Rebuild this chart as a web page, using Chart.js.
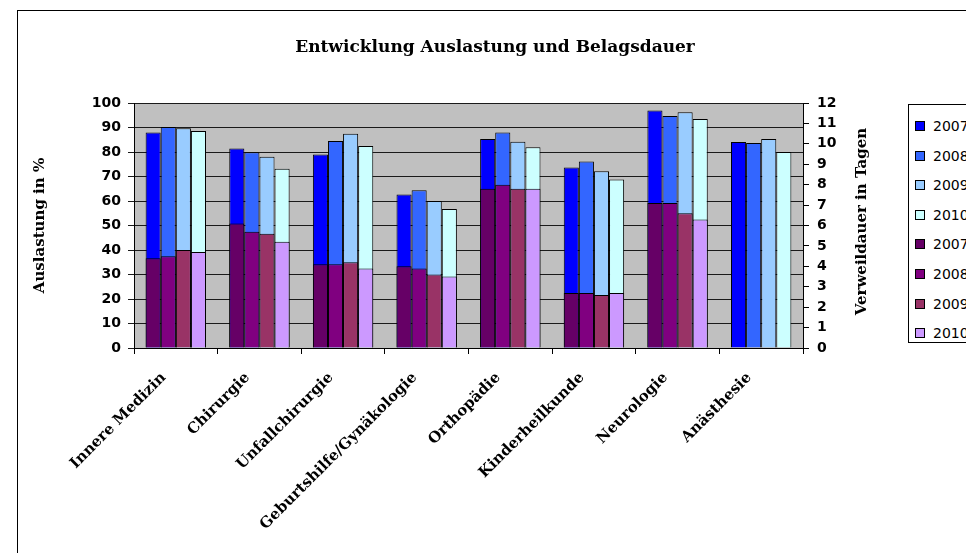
<!DOCTYPE html>
<html lang="de">
<head>
<meta charset="utf-8">
<title>Entwicklung Auslastung und Belagsdauer</title>
<script src="https://cdn.jsdelivr.net/npm/chart.js@4.4.1/dist/chart.umd.min.js"></script>
<style>
  html, body { margin: 0; padding: 0; background: #fff; overflow: hidden; }
  #frame { position: absolute; left: 17px; top: 10px; width: 1200px; height: 800px; border-left: 1px solid #000; border-top: 1px solid #000; }
  #wrap { position: absolute; left: 0; top: 0; width: 970px; height: 553px; }
  #legend { position: absolute; left: 908px; top: 104px; width: 120px; height: 237px; border: 1px solid #000; background: #fff; font: 14px 'DejaVu Sans', sans-serif; color: #000; }
  .legend-item { position: absolute; left: 6px; height: 14px; display: flex; align-items: center; white-space: nowrap; }
  .legend-item i { display: inline-block; width: 8px; height: 8px; border: 1px solid #000; margin-right: 8px; }
</style>
</head>
<body>
<div id="frame"></div>
<div id="wrap"><canvas id="chart" width="970" height="553"></canvas></div>
<div id="legend"></div>
<script>
// Abteilungen (x-Achse)
const categories = [
  'Innere Medizin', 'Chirurgie', 'Unfallchirurgie', 'Geburtshilfe/Gynäkologie',
  'Orthopädie', 'Kinderheilkunde', 'Neurologie', 'Anästhesie',
];
const years = ['2007', '2008', '2009', '2010'];

// Auslastung in % (linke Achse)
const auslastung2007 = [88.0, 81.4, 79.0, 62.7, 85.3, 73.7, 96.9, 84.1];
const auslastung2008 = [90.2, 79.9, 84.5, 64.4, 88.0, 76.1, 94.7, 83.7];
const auslastung2009 = [89.7, 78.1, 87.5, 60.0, 84.2, 72.1, 96.2, 85.3];
const auslastung2010 = [88.6, 73.2, 82.4, 56.7, 81.9, 68.8, 93.5, 80.0];

// Verweildauer in Tagen (rechte Achse)
const verweildauer2007 = [4.4, 6.1, 4.1, 4.0, 7.8, 2.7, 7.1, null];
const verweildauer2008 = [4.5, 5.7, 4.1, 3.9, 8.0, 2.7, 7.1, null];
const verweildauer2009 = [4.8, 5.6, 4.2, 3.6, 7.8, 2.6, 6.6, null];
const verweildauer2010 = [4.7, 5.2, 3.9, 3.5, 7.8, 2.7, 6.3, null];

const leftTicks = { min: 0, max: 100, step: 10 };
const rightTicks = { min: 0, max: 12, step: 1 };

const BLUES = ['#0000ff', '#3366ff', '#99ccff', '#ccffff'];
const PURPLES = ['#660066', '#800080', '#993366', '#cc99ff'];

const auslastung = [auslastung2007, auslastung2008, auslastung2009, auslastung2010];
const verweildauer = [verweildauer2007, verweildauer2008, verweildauer2009, verweildauer2010];

const SERIF = "'DejaVu Serif', serif";
const SANS = "'DejaVu Sans', sans-serif";
const RIGHT_TITLE = 'Verweildauer in Tagen';

const plotBackground = {
  id: 'plotBackground',
  beforeDraw(chart) {
    const { ctx, chartArea: a } = chart;
    ctx.save();
    ctx.fillStyle = '#c0c0c0';
    ctx.fillRect(a.left, a.top, a.right - a.left, a.bottom - a.top);
    ctx.restore();
  },
};

// Excel schreibt den rechten Achsentitel von unten nach oben
const rightAxisTitle = {
  id: 'rightAxisTitle',
  afterDraw(chart) {
    const { ctx, chartArea: a } = chart;
    ctx.save();
    ctx.translate(a.right + 59, (a.top + a.bottom) / 2 - 4);
    ctx.rotate(-Math.PI / 2);
    ctx.font = `bold 15px ${SERIF}`;
    ctx.fillStyle = '#000';
    ctx.textAlign = 'center';
    ctx.textBaseline = 'middle';
    ctx.fillText(RIGHT_TITLE, 0, 0);
    ctx.restore();
  },
};

function barSet(values, i, colors, axis, order) {
  return {
    label: years[i],
    data: values,
    backgroundColor: colors[i],
    borderColor: '#000',
    borderWidth: 1,
    yAxisID: axis,
    stack: 's' + i,
    order: order,
    categoryPercentage: 0.722,
    barPercentage: 1.0,
  };
}

const datasets = [
  ...auslastung.map((v, i) => barSet(v, i, BLUES, 'y', 1)),
  ...verweildauer.map((v, i) => barSet(v, i, PURPLES, 'y2', 0)),
];

const chart = new Chart(document.getElementById('chart'), {
  type: 'bar',
  data: { labels: categories, datasets },
  plugins: [plotBackground, rightAxisTitle],
  options: {
    responsive: false,
    animation: false,
    devicePixelRatio: 1,
    layout: { padding: { left: 20, right: 0, top: 0, bottom: 0 } },
    plugins: {
      legend: { display: false },
      tooltip: { enabled: false },
      title: {
        display: true,
        text: 'Entwicklung Auslastung und Belagsdauer',
        color: '#000',
        font: { family: SERIF, weight: 'bold', size: 17 },
        padding: { top: 37, bottom: 45.6 },
      },
    },
    scales: {
      x: {
        offset: true,
        grid: { offset: true, drawOnChartArea: false, tickLength: 6, color: '#000' },
        border: { color: '#000' },
        ticks: {
          autoSkip: false,
          minRotation: 45,
          maxRotation: 45,
          padding: 15,
          labelOffset: -12,
          color: '#000',
          font: { family: SERIF, weight: 'bold', size: 15 },
        },
        afterFit: (s) => { s.height = 205; },
      },
      y: {
        position: 'left',
        stacked: false,
        min: leftTicks.min,
        max: leftTicks.max,
        ticks: { stepSize: leftTicks.step, padding: 7, color: '#000', font: { family: SANS, weight: 'bold', size: 14 } },
        grid: { color: '#1a1a1a', tickLength: 6 },
        border: { color: '#000' },
        title: {
          display: true,
          text: 'Auslastung in %',
          color: '#000',
          font: { family: SERIF, weight: 'bold', size: 15 },
          padding: { top: 11, bottom: 0 },
        },
        afterFit: (s) => { s.width = 114; },
      },
      y2: {
        position: 'right',
        stacked: false,
        min: rightTicks.min,
        max: rightTicks.max,
        ticks: { stepSize: rightTicks.step, padding: 8, color: '#000', font: { family: SANS, weight: 'bold', size: 14 } },
        grid: { drawOnChartArea: false, color: '#000', tickLength: 6 },
        border: { color: '#000' },
        afterFit: (s) => { s.width = 167; },
      },
    },
  },
});

// Legende (Excel-Stil, rechts abgeschnitten wie im Original)
const legend = document.getElementById('legend');
chart.data.datasets.forEach((ds, i) => {
  const item = document.createElement('div');
  item.className = 'legend-item';
  item.style.top = (14 + i * 29.6) + 'px';
  item.innerHTML = `<i style="background:${ds.backgroundColor}"></i>${ds.label}`;
  legend.appendChild(item);
});
</script>
</body>
</html>
